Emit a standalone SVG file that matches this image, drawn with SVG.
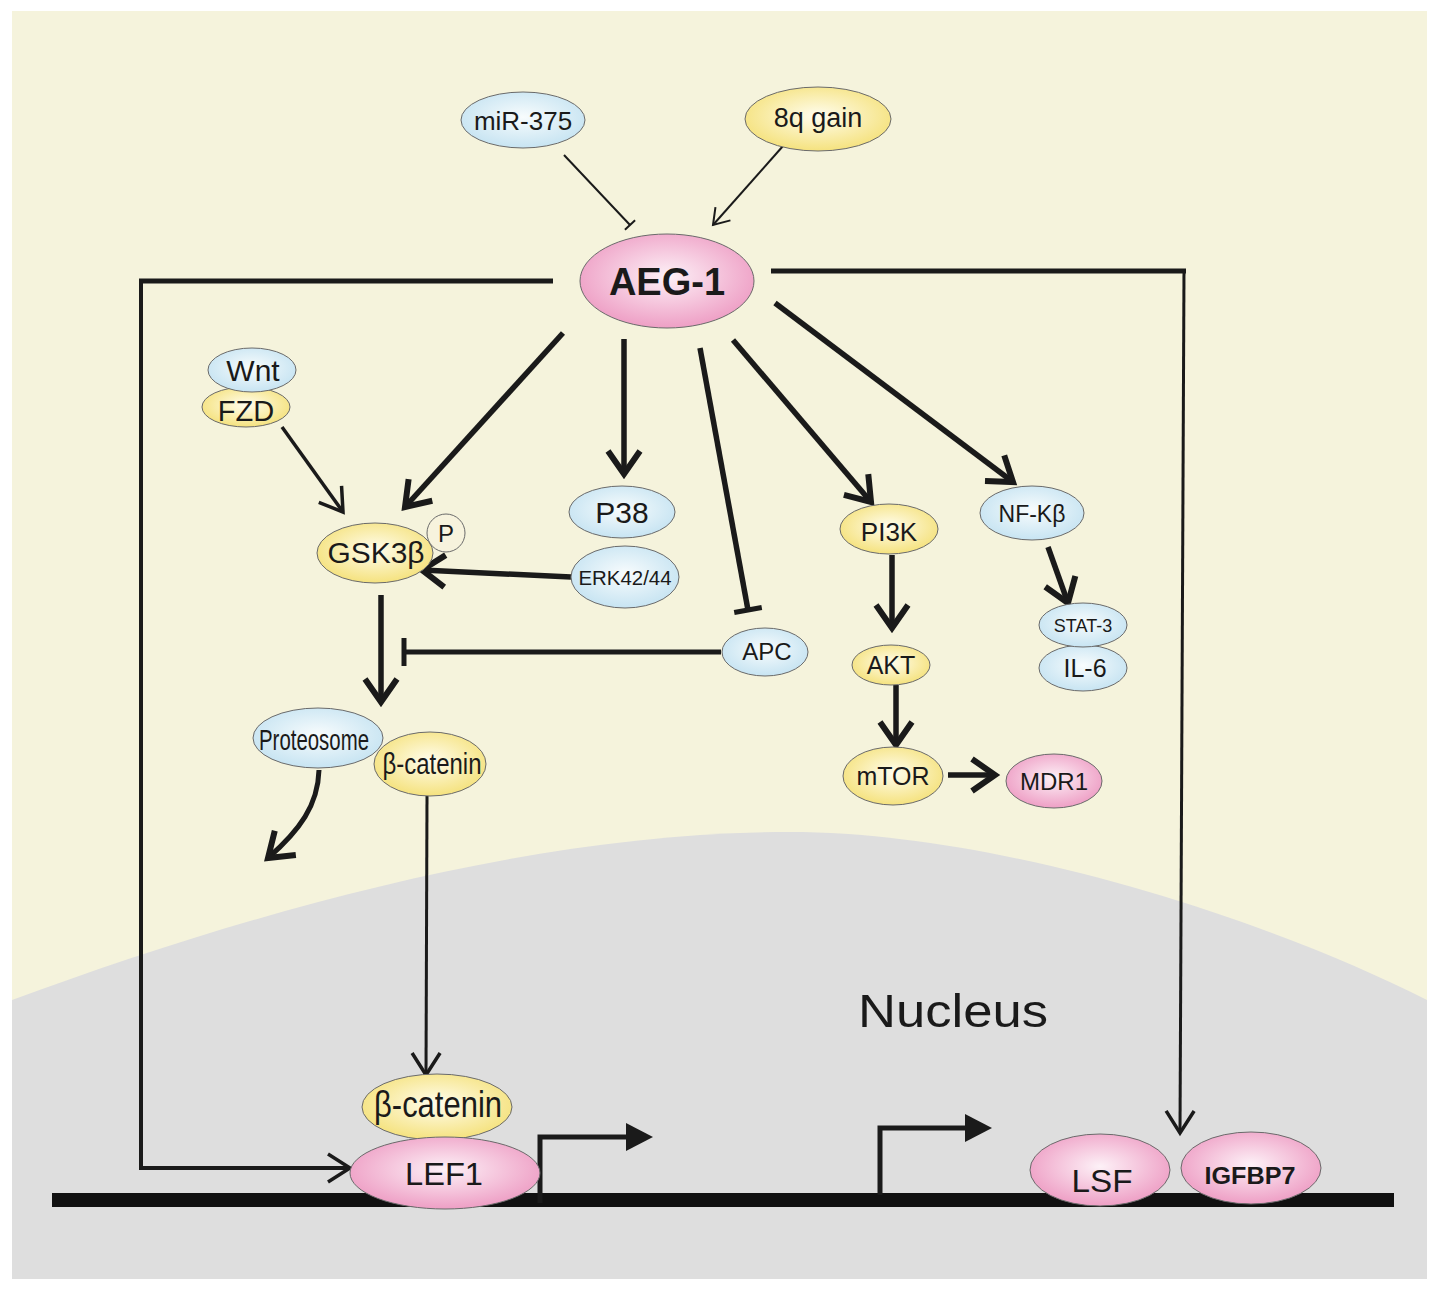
<svg xmlns="http://www.w3.org/2000/svg" width="1441" height="1292" viewBox="0 0 1441 1292">
<defs>
<radialGradient id="gBlue" cx="50%" cy="45%" r="55%"><stop offset="0" stop-color="#F8FCFD"/><stop offset="1" stop-color="#C7E4F2"/></radialGradient>
<radialGradient id="gYel" cx="50%" cy="45%" r="55%"><stop offset="0" stop-color="#FFFDEE"/><stop offset="1" stop-color="#F5E27E"/></radialGradient>
<radialGradient id="gPink" cx="50%" cy="45%" r="55%"><stop offset="0" stop-color="#FDF1F7"/><stop offset="1" stop-color="#EE9FC5"/></radialGradient>
<marker id="aThick" markerUnits="userSpaceOnUse" viewBox="-30 -22 40 44" markerWidth="40" markerHeight="44" refX="0" refY="0" orient="auto"><path d="M-23,-16 L0,0 L-23,16" fill="none" stroke="#1a1a1a" stroke-width="6"/></marker>
<marker id="aMed" markerUnits="userSpaceOnUse" viewBox="-28 -20 36 40" markerWidth="36" markerHeight="40" refX="0" refY="0" orient="auto"><path d="M-22,-14 L0,0 L-22,14" fill="none" stroke="#1a1a1a" stroke-width="3.5"/></marker>
<marker id="aThin" markerUnits="userSpaceOnUse" viewBox="-20 -14 26 28" markerWidth="26" markerHeight="28" refX="0" refY="0" orient="auto"><path d="M-15,-10 L0,0 L-15,10" fill="none" stroke="#1a1a1a" stroke-width="2"/></marker>
<marker id="teeThick" markerUnits="userSpaceOnUse" viewBox="-6 -18 12 36" markerWidth="12" markerHeight="36" refX="0" refY="0" orient="auto"><path d="M0,-14 L0,14" stroke="#1a1a1a" stroke-width="5"/></marker>
<marker id="teeThin" markerUnits="userSpaceOnUse" viewBox="-4 -10 8 20" markerWidth="8" markerHeight="20" refX="0" refY="0" orient="auto"><path d="M0,-7 L0,7" stroke="#1a1a1a" stroke-width="2"/></marker>
<marker id="prom" markerUnits="userSpaceOnUse" viewBox="-2 -16 30 32" markerWidth="30" markerHeight="32" refX="0" refY="0" orient="auto"><path d="M-1,-14 L26,0 L-1,14 Z" fill="#1a1a1a"/></marker>
</defs>
<style>
.t{font-family:"Liberation Sans",Arial,sans-serif;fill:#1a1a1a;text-anchor:middle}
.b{font-weight:bold}
.n{stroke:#6a6a6a;stroke-width:1}
.blue{fill:url(#gBlue)}
.yel{fill:url(#gYel)}
.pink{fill:url(#gPink)}
.c{fill:none;stroke:#1a1a1a;stroke-linecap:butt;stroke-linejoin:miter}
.w6{stroke-width:5.5}
.w5{stroke-width:5}
.w4{stroke-width:4}
.w3{stroke-width:3}
.w2{stroke-width:2}
</style>
<g id="background">
<rect x="0" y="0" width="1441" height="1292" fill="#FFFFFF"/>
<rect x="12" y="11" width="1415" height="1268" fill="#F5F3DC"/>
<path d="M12,1000 C230,920 520,832 790,832 C1000,832 1270,920 1427,1000 L1427,1279 L12,1279 Z" fill="#DEDEDE"/>
<rect x="52" y="1193" width="1342" height="14" fill="#111111"/>
<text class="t" x="858" y="1027" font-size="46" style="text-anchor:start" textLength="190" lengthAdjust="spacingAndGlyphs">Nucleus</text>
</g>
<g id="connectors">
<path class="c w2" d="M564,155 L630,225" marker-end="url(#teeThin)"/>
<path class="c w2" d="M783,146 L713,225" marker-end="url(#aThin)"/>
<path class="c w5" d="M553,281 H139"/>
<path class="c w4" d="M141,279 V1168 H350" marker-end="url(#aMed)"/>
<path class="c w5" d="M771,271 H1186"/>
<path class="c w3" d="M1184,269 L1180,1133" marker-end="url(#aMed)"/>
<path class="c w6" d="M563,333 L405,507" marker-end="url(#aThick)"/>
<path class="c w6" d="M624,339 L624,474" marker-end="url(#aThick)"/>
<path class="c w6" d="M700,348 L748,610" marker-end="url(#teeThick)"/>
<path class="c w6" d="M733,340 L871,502" marker-end="url(#aThick)"/>
<path class="c w6" d="M775,303 L1013,482" marker-end="url(#aThick)"/>
<path class="c" style="stroke-width:3.5" d="M282,427 L343,512" marker-end="url(#aMed)"/>
<path class="c w6" d="M571,577 L422,570" marker-end="url(#aThick)"/>
<path class="c w6" d="M381,595 L381,702" marker-end="url(#aThick)"/>
<path class="c w5" d="M721,652 L404,652" marker-end="url(#teeThick)"/>
<path class="c w5" d="M319,770 C318,805 300,830 268,858" marker-end="url(#aThick)"/>
<path class="c w3" d="M427,796 L426,1075" marker-end="url(#aMed)"/>
<path class="c w6" d="M892,555 L892,628" marker-end="url(#aThick)"/>
<path class="c w6" d="M896,685 L896,745" marker-end="url(#aThick)"/>
<path class="c w6" d="M948,775 L995,775" marker-end="url(#aThick)"/>
<path class="c w6" d="M1048,547 L1068,603" marker-end="url(#aThick)"/>
<path class="c w5" d="M540,1203 V1137 H627" marker-end="url(#prom)"/>
<path class="c w5" d="M880,1195 V1128 H966" marker-end="url(#prom)"/>
</g>
<g id="miR-375"><ellipse class="n blue" cx="523" cy="120" rx="62" ry="28"/><text class="t" x="523" y="130" font-size="26">miR-375</text></g>
<g id="gain8q"><ellipse class="n yel" cx="818" cy="119" rx="73" ry="32"/><text class="t" x="818" y="127" font-size="27">8q gain</text></g>
<g id="AEG-1"><ellipse class="n pink" cx="667" cy="281" rx="87" ry="47"/><text class="t b" x="667" y="295" font-size="38">AEG-1</text></g>
<g id="FZD"><ellipse class="n yel" cx="246" cy="407" rx="44" ry="20"/><text class="t" x="246" y="421" font-size="29">FZD</text></g>
<g id="Wnt"><ellipse class="n blue" cx="252" cy="370" rx="44" ry="22"/><text class="t" x="253" y="381" font-size="30">Wnt</text></g>
<g id="P"><circle class="n" cx="446" cy="533" r="19" fill="#F7F3DD"/><text class="t" x="446" y="542" font-size="24">P</text></g>
<g id="GSK3b"><ellipse class="n yel" cx="375" cy="553" rx="58" ry="30"/><text class="t" x="376" y="563" font-size="30" textLength="97" lengthAdjust="spacingAndGlyphs">GSK3β</text></g>
<g id="P38"><ellipse class="n blue" cx="622" cy="512" rx="53" ry="26"/><text class="t" x="622" y="523" font-size="30">P38</text></g>
<g id="ERK"><ellipse class="n blue" cx="625" cy="577" rx="54" ry="31"/><text class="t" x="625" y="585" font-size="20" textLength="93" lengthAdjust="spacingAndGlyphs">ERK42/44</text></g>
<g id="APC"><ellipse class="n blue" cx="765" cy="652" rx="43" ry="24"/><text class="t" x="767" y="660" font-size="24">APC</text></g>
<g id="Proteosome"><ellipse class="n blue" cx="318" cy="738" rx="65" ry="30"/><text class="t" x="314" y="750" font-size="30" textLength="110" lengthAdjust="spacingAndGlyphs">Proteosome</text></g>
<g id="b-catenin-cyto"><ellipse class="n yel" cx="430" cy="764" rx="56" ry="32"/><text class="t" x="432" y="774" font-size="30" textLength="99" lengthAdjust="spacingAndGlyphs">β-catenin</text></g>
<g id="PI3K"><ellipse class="n yel" cx="889" cy="529" rx="49" ry="25"/><text class="t" x="889" y="541" font-size="26">PI3K</text></g>
<g id="NF-Kb"><ellipse class="n blue" cx="1032" cy="513" rx="52" ry="27"/><text class="t" x="1032" y="522" font-size="23">NF-Kβ</text></g>
<g id="IL-6"><ellipse class="n blue" cx="1083" cy="668" rx="44" ry="23"/><text class="t" x="1085" y="677" font-size="25">IL-6</text></g>
<g id="STAT-3"><ellipse class="n blue" cx="1083" cy="625" rx="44" ry="22"/><text class="t" x="1083" y="632" font-size="18">STAT-3</text></g>
<g id="AKT"><ellipse class="n yel" cx="891" cy="665" rx="39" ry="20"/><text class="t" x="891" y="674" font-size="25">AKT</text></g>
<g id="mTOR"><ellipse class="n yel" cx="893" cy="776" rx="50" ry="29"/><text class="t" x="893" y="785" font-size="25">mTOR</text></g>
<g id="MDR1"><ellipse class="n pink" cx="1054" cy="781" rx="48" ry="27"/><text class="t" x="1054" y="790" font-size="24">MDR1</text></g>
<g id="b-catenin-nuc"><ellipse class="n yel" cx="437" cy="1107" rx="75" ry="33"/><text class="t" x="438" y="1117" font-size="37" textLength="128" lengthAdjust="spacingAndGlyphs">β-catenin</text></g>
<g id="LEF1"><ellipse class="n pink" cx="445" cy="1173" rx="95" ry="36"/><text class="t" x="444" y="1185" font-size="31" textLength="78" lengthAdjust="spacingAndGlyphs">LEF1</text></g>
<g id="LSF"><ellipse class="n pink" cx="1100" cy="1170" rx="70" ry="36"/><text class="t" x="1102" y="1192" font-size="32" textLength="61" lengthAdjust="spacingAndGlyphs">LSF</text></g>
<g id="IGFBP7"><ellipse class="n pink" cx="1251" cy="1168" rx="70" ry="36"/><text class="t b" x="1250" y="1184" font-size="24" textLength="91" lengthAdjust="spacingAndGlyphs">IGFBP7</text></g>
</svg>
